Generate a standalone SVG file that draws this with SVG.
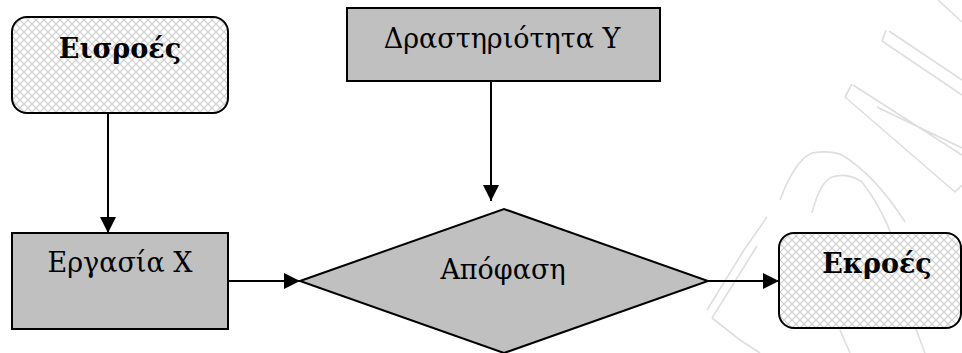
<svg xmlns="http://www.w3.org/2000/svg" width="962" height="353" viewBox="0 0 962 353">
  <style>
    .box { fill: #c0c0c0; stroke: #000; stroke-width: 2; }
    .term { fill: url(#hatch); stroke: #000; stroke-width: 2; }
    .lbl { font-family: "DejaVu Serif", "Liberation Serif", serif; font-size: 27px; fill: #000; text-anchor: middle; }
    .bold { font-weight: bold; }
    .wire { fill: none; stroke: #000; stroke-width: 2; }
    .mark { fill: none; stroke: #dedede; stroke-width: 1.6; stroke-linejoin: round; }
  </style>
  <defs>
    <pattern id="hatch" width="8" height="8" patternUnits="userSpaceOnUse">
      <rect width="8" height="8" fill="#fff"/>
      <path d="M0 0 L8 8 M8 0 L0 8" stroke="#cdcdcd" stroke-width="1.2"/>
    </pattern>
    <marker id="arrow" markerWidth="16" markerHeight="16" refX="16" refY="8" orient="auto" markerUnits="userSpaceOnUse">
      <path d="M0 0 L16 8 L0 16 Z" fill="#000"/>
    </marker>
  </defs>
  <rect width="962" height="353" fill="#fff"/>

  <!-- faint background seal, right side -->
  <g id="seal">
    <path class="mark" d="M938 0 L962 22"/>
    <path class="mark" d="M886 30 L882 41 L962 95 M889 31 L962 80"/>
    <path class="mark" d="M852 84 L845 97 L955 192 L962 185 M853 85 L962 155 M877 107 L962 148"/>
    <path class="mark" d="M780 200 Q795 160 812 153 Q830 150 842 155 Q875 175 905 222"/>
    <path class="mark" d="M812 213 Q820 182 832 177 Q848 172 862 182 Q880 205 892 236"/>
    <path class="mark" d="M767 217 L744 250 L707 310 M757 246 L712 318"/>
    <path class="mark" d="M712 318 L740 340 L760 353 M840 330 L850 353 M905 300 L925 353"/>
  </g>

  <g id="connectors">
    <line class="wire" x1="108" y1="113" x2="108" y2="233" marker-end="url(#arrow)"/>
    <line class="wire" x1="491" y1="81" x2="491" y2="201" marker-end="url(#arrow)"/>
    <line class="wire" x1="228" y1="281" x2="300" y2="281" marker-end="url(#arrow)"/>
    <line class="wire" x1="708" y1="281" x2="779" y2="281" marker-end="url(#arrow)"/>
  </g>

  <g id="inputs">
    <rect class="term" x="12" y="17" width="216" height="96" rx="15"/>
    <text class="lbl bold" x="120" y="58">Εισροές</text>
  </g>

  <g id="activity-y">
    <rect class="box" x="347" y="8" width="313" height="73"/>
    <text class="lbl" x="502" y="48">Δραστηριότητα Y</text>
  </g>

  <g id="task-x">
    <rect class="box" x="12" y="233" width="216" height="96"/>
    <text class="lbl" x="120" y="272">Εργασία X</text>
  </g>

  <g id="decision">
    <polygon class="box" points="300,281 504,209 708,281 504,353"/>
    <text class="lbl" x="503" y="279">Απόφαση</text>
  </g>

  <g id="outputs">
    <rect class="term" x="779" y="233" width="182" height="95" rx="15"/>
    <text class="lbl bold" x="877" y="273">Εκροές</text>
  </g>
</svg>
